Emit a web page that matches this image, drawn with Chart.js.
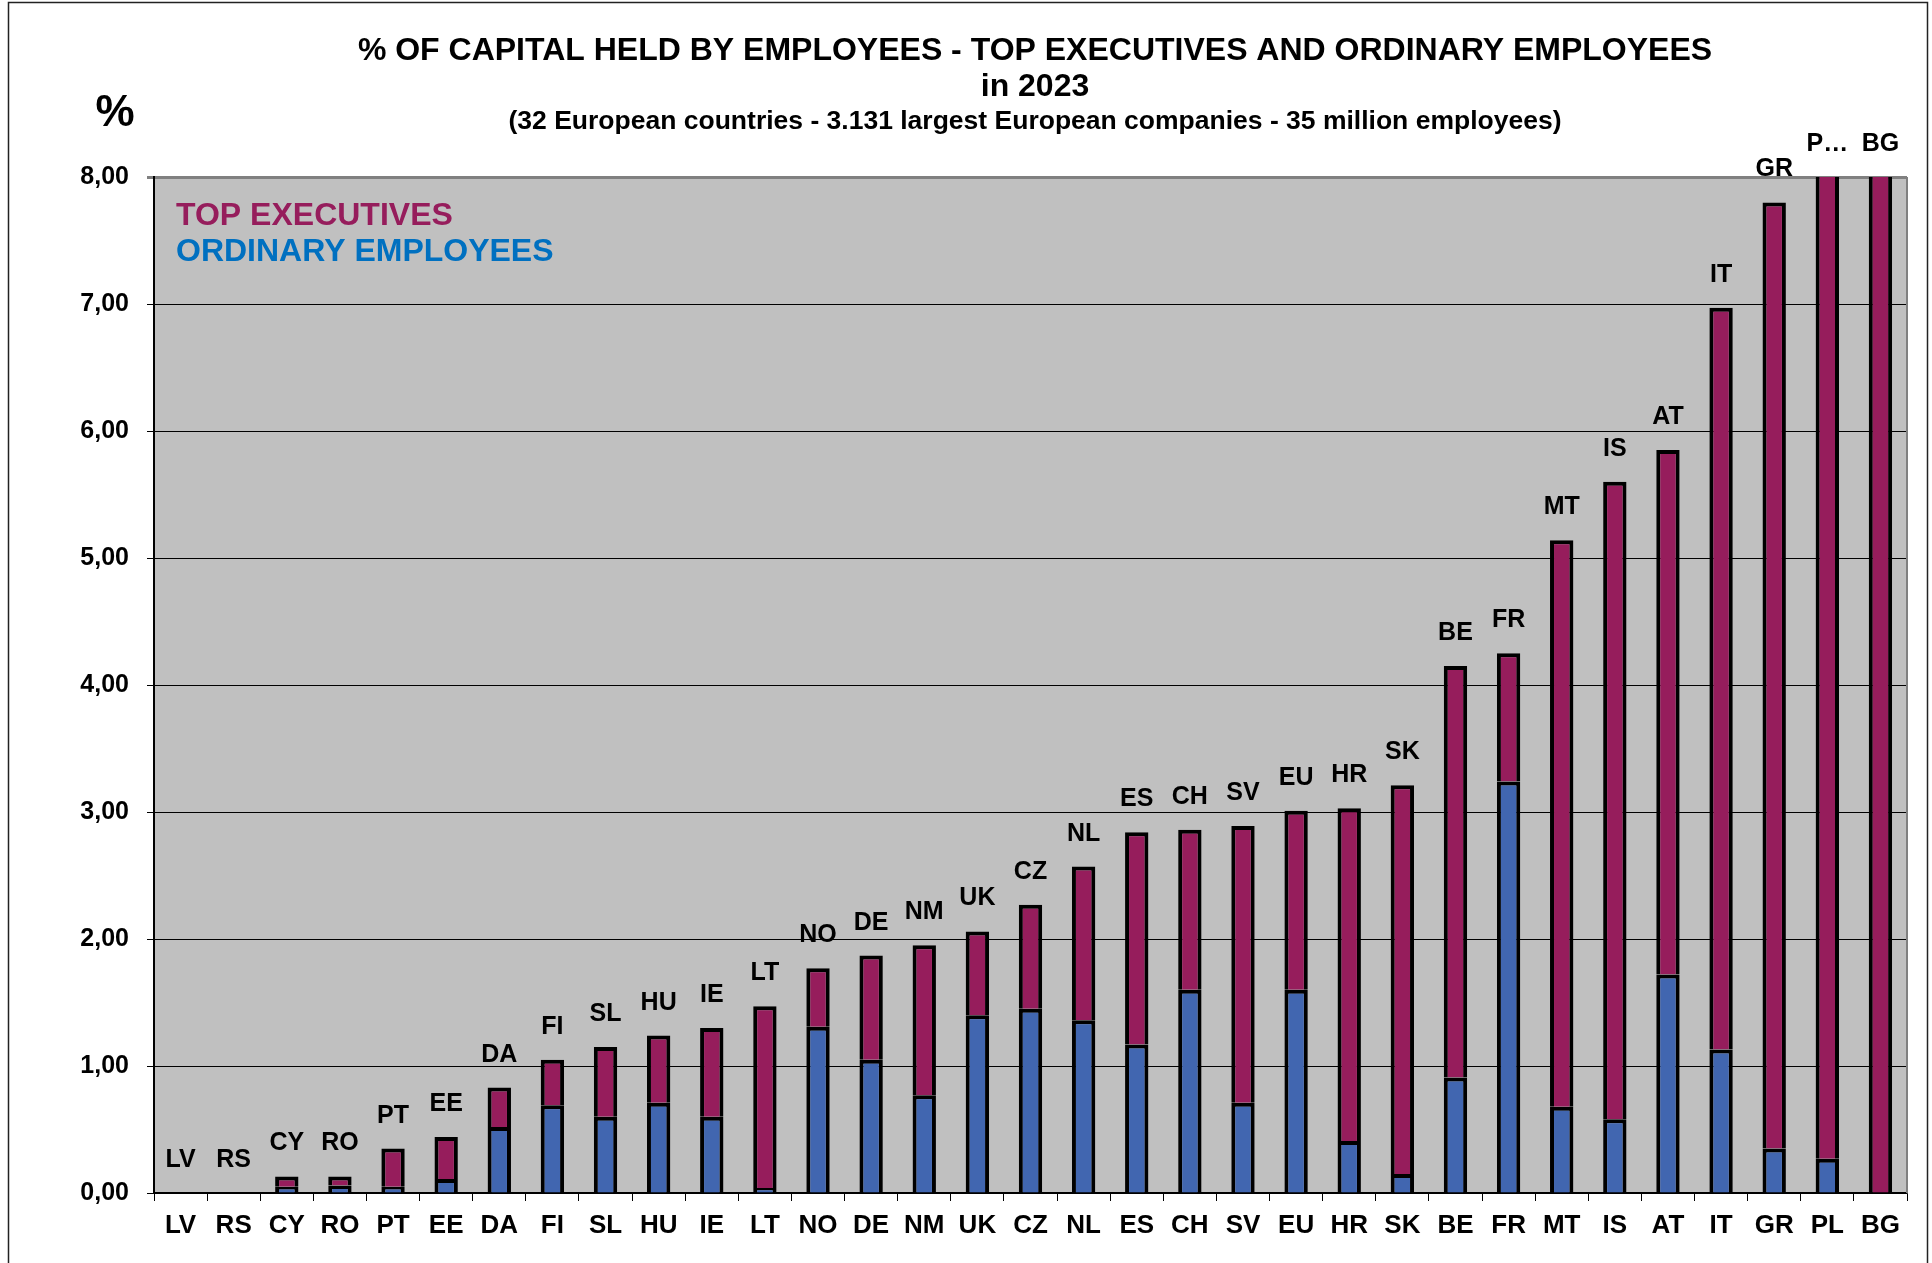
<!DOCTYPE html>
<html>
<head>
<meta charset="utf-8">
<script src="https://cdn.jsdelivr.net/npm/chart.js@4.4.1/dist/chart.umd.min.js"></script>
<style>
  body { margin: 0; background: #fff; }
  canvas { display: block; }
</style>
</head>
<body>
<canvas id="capitalChart" width="1932" height="1263"></canvas>
<script>
// countries sorted by total % of capital held by employees
const countries = ["LV", "RS", "CY", "RO", "PT", "EE", "DA", "FI", "SL", "HU", "IE", "LT", "NO", "DE", "NM", "UK",
  "CZ", "NL", "ES", "CH", "SV", "EU", "HR", "SK", "BE", "FR", "MT", "IS", "AT", "IT", "GR", "PL", "BG"];

// ordinary employees (bottom segment)
const ordinary = [0, 0, 0.05, 0.06, 0.05, 0.11, 0.52, 0.69, 0.60, 0.71, 0.60, 0.04, 1.31, 1.05, 0.77, 1.40,
  1.45, 1.36, 1.17, 1.60, 0.71, 1.60, 0.41, 0.15, 0.91, 3.24, 0.68, 0.58, 1.72, 1.13, 0.35, 0.27, 0];

// top executives (upper segment) - PL and BG go past the top of the axis
const executives = [0, 0, 0.08, 0.07, 0.30, 0.33, 0.31, 0.36, 0.55, 0.53, 0.70, 1.43, 0.46, 0.82, 1.18, 0.66,
  0.82, 1.21, 1.67, 1.26, 2.18, 1.41, 2.62, 3.06, 3.24, 1.01, 4.46, 5.02, 4.13, 5.84, 7.45, 9.2, 10.5];

const yTicks = [0, 1, 2, 3, 4, 5, 6, 7, 8];

const titleLines = [
  "% OF CAPITAL HELD BY EMPLOYEES - TOP EXECUTIVES AND ORDINARY EMPLOYEES",
  "in 2023"
];
const subtitle = "(32 European countries - 3.131 largest European companies - 35 million employees)";

const EXEC_COLOR = "#961D5C";
const EMPL_COLOR = "#4166B0";
const FONT = "'Liberation Sans', Arial, sans-serif";

function fmt(v) {
  return v.toFixed(2).replace(".", ",");
}

// background, plot fill and frame
const backdrop = {
  id: "backdrop",
  beforeDraw(chart) {
    const { ctx, chartArea } = chart;
    ctx.save();
    ctx.fillStyle = "#fff";
    ctx.fillRect(0, 0, chart.width, chart.height);
    ctx.fillStyle = "#C0C0C0";
    ctx.fillRect(chartArea.left, chartArea.top, chartArea.right - chartArea.left, chartArea.bottom - chartArea.top);
    ctx.restore();
  },
  afterDraw(chart) {
    const { ctx, chartArea } = chart;
    ctx.save();
    // right edge of the plot
    ctx.strokeStyle = "#808080";
    ctx.lineWidth = 2;
    ctx.beginPath();
    ctx.moveTo(chartArea.right, chartArea.top);
    ctx.lineTo(chartArea.right, chartArea.bottom);
    ctx.stroke();
    // outer frame
    ctx.strokeStyle = "#222";
    ctx.lineWidth = 1.5;
    ctx.strokeRect(8.5, 2.5, 1919, 1262);
    ctx.restore();
  }
};

// titles, % sign and text legend
const texts = {
  id: "texts",
  afterDraw(chart) {
    const { ctx, chartArea } = chart;
    ctx.save();
    ctx.fillStyle = "#000";
    ctx.textAlign = "center";
    ctx.textBaseline = "middle";
    ctx.font = "bold 32px " + FONT;
    ctx.fillText(titleLines[0], 1035, 51);
    ctx.fillText(titleLines[1], 1035, 87);
    ctx.font = "bold 26.5px " + FONT;
    ctx.fillText(subtitle, 1035, 122);
    ctx.font = "bold 44px " + FONT;
    ctx.fillText("%", 115, 114);

    ctx.textAlign = "left";
    ctx.font = "bold 32px " + FONT;
    const ds = chart.data.datasets;
    ctx.fillStyle = EXEC_COLOR;
    ctx.fillText(ds[1].label, chartArea.left + 22, 216);
    ctx.fillStyle = "#0070C0";
    ctx.fillText(ds[0].label, chartArea.left + 22, 252);
    ctx.restore();
  }
};

// country label above each stack
const topLabels = {
  id: "topLabels",
  afterDatasetsDraw(chart) {
    const { ctx } = chart;
    const xs = chart.scales.x;
    const ys = chart.scales.y;
    ctx.save();
    ctx.fillStyle = "#000";
    ctx.font = "bold 25px " + FONT;
    ctx.textAlign = "center";
    ctx.textBaseline = "alphabetic";
    countries.forEach((c, i) => {
      const total = ordinary[i] + executives[i];
      const clipped = total > ys.max;
      let text = c;
      if (clipped && i + 1 < countries.length && ordinary[i + 1] + executives[i + 1] > ys.max) {
        text = c.charAt(0) + "\u2026";
      }
      const y = ys.getPixelForValue(Math.min(total, ys.max));
      ctx.fillText(text, xs.getPixelForValue(i), y - 26);
    });
    ctx.restore();
  }
};

new Chart(document.getElementById("capitalChart"), {
  type: "bar",
  data: {
    labels: countries,
    datasets: [
      {
        label: "ORDINARY EMPLOYEES",
        data: ordinary,
        backgroundColor: EMPL_COLOR,
        borderColor: "#000",
        borderWidth: 4,
      },
      {
        label: "TOP EXECUTIVES",
        data: executives,
        backgroundColor: EXEC_COLOR,
        borderColor: "#000",
        borderWidth: 4,
      },
    ],
  },
  options: {
    responsive: false,
    animation: false,
    layout: { padding: { top: 177, right: 25, left: 0, bottom: 0 } },
    datasets: { bar: { categoryPercentage: 1, barPercentage: 0.44 } },
    plugins: {
      legend: { display: false },
      tooltip: { enabled: false },
    },
    scales: {
      x: {
        stacked: true,
        grid: { offset: true, drawOnChartArea: false, drawTicks: true, tickLength: 8, color: "#000" },
        border: { color: "#000", width: 1.5 },
        ticks: {
          color: "#000",
          font: { family: FONT, size: 26, weight: "bold" },
          padding: 9,
          maxRotation: 0,
          autoSkip: false,
        },
        afterFit: (s) => { s.height = 70; },
      },
      y: {
        stacked: true,
        min: yTicks[0],
        max: yTicks[yTicks.length - 1],
        afterBuildTicks: (s) => { s.ticks = yTicks.map((v) => ({ value: v })); },
        grid: {
          color: (c) => (c.tick && c.tick.value === 8 ? "#808080" : "#000"),
          lineWidth: (c) => (c.tick && c.tick.value === 8 ? 3 : 1),
          tickLength: 7,
        },
        border: { color: "#000", width: 2 },
        ticks: {
          color: "#000",
          font: { family: FONT, size: 25, weight: "bold" },
          padding: 18,
          callback: (v) => fmt(v),
        },
        afterFit: (s) => { s.width = 154; },
      },
    },
  },
  plugins: [backdrop, texts, topLabels],
});
</script>
</body>
</html>
